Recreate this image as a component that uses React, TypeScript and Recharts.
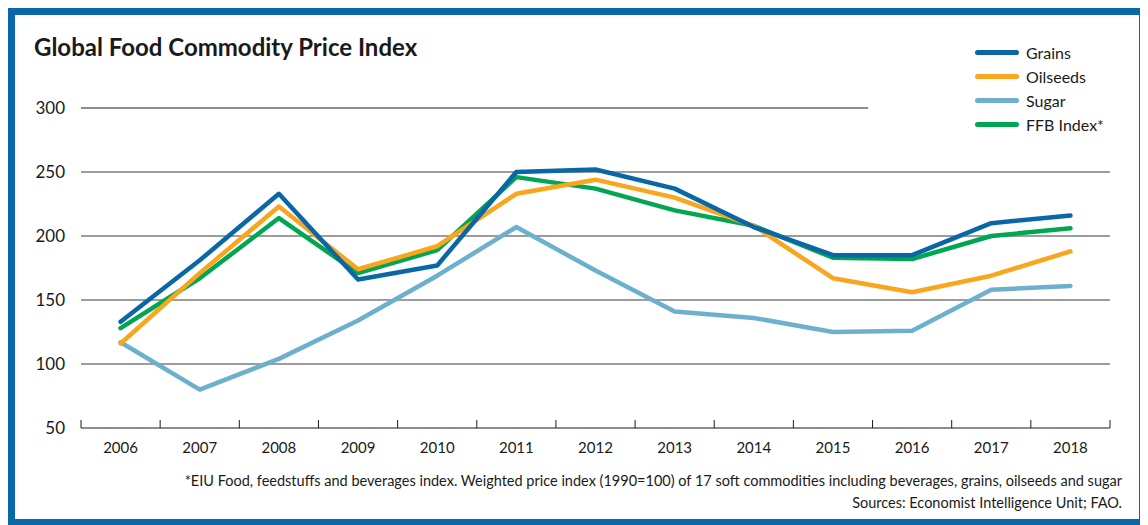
import React from "react";
import { LineChart, Line, XAxis, YAxis, CartesianGrid, ReferenceLine } from "recharts";

const years = ["2006", "2007", "2008", "2009", "2010", "2011", "2012", "2013", "2014", "2015", "2016", "2017", "2018"];
const grains = [133, 181, 233, 166, 177, 250, 252, 237, 207, 185, 185, 210, 216];
const oilseeds = [116, 171, 223, 174, 192, 233, 244, 230, 208, 167, 156, 169, 188];
const sugar = [117, 80, 104, 134, 169, 207, 173, 141, 136, 125, 126, 158, 161];
const ffb = [128, 167, 214, 171, 189, 246, 237, 220, 208, 183, 182, 200, 206];
const yTicks = [50, 100, 150, 200, 250, 300];

const series = [
  { key: "grains", name: "Grains", color: "#0a67a6" },
  { key: "oilseeds", name: "Oilseeds", color: "#f9a51e" },
  { key: "sugar", name: "Sugar", color: "#6db0cd" },
  { key: "ffb", name: "FFB Index*", color: "#00a651" },
];
// drawing order (bottom first)
const drawOrder = ["sugar", "ffb", "oilseeds", "grains"];

const data = years.map((y, i) => ({
  year: y,
  grains: grains[i],
  oilseeds: oilseeds[i],
  sugar: sugar[i],
  ffb: ffb[i],
}));

const FONT = "Lato, 'Open Sans', sans-serif";
const INK = "#1a1a1a";

function YearTick(props: any) {
  const { x, y, payload, index, visibleTicksCount } = props;
  const off = payload.offset || 39.6;
  return (
    <g>
      <line x1={x - off} x2={x - off} y1={y} y2={y - 8} stroke={INK} />
      {index === visibleTicksCount - 1 && <line x1={x + off} x2={x + off} y1={y} y2={y - 8} stroke={INK} />}
      <text x={x} y={y + 25} textAnchor="middle" fontSize={15} fill={INK} fontFamily={FONT}>
        {payload.value}
      </text>
    </g>
  );
}

export default function App() {
  return (
    <div
      style={{
        position: "relative",
        width: 1138,
        height: 518,
        border: "7px solid #0868a8",
        boxSizing: "border-box",
        background: "#fff",
        fontFamily: FONT,
      }}
    >
      <div
        style={{
          position: "absolute",
          left: 19,
          top: 20,
          fontSize: 24,
          fontWeight: 700,
          color: INK,
          lineHeight: 1,
        }}
      >
        Global Food Commodity Price Index
      </div>
      <div style={{ position: "absolute", left: 960, top: 25, fontSize: 16, color: INK }}>
        {series.map((s) => (
          <div key={s.key} style={{ display: "flex", alignItems: "center", height: 24 }}>
            <div style={{ width: 44, height: 5, borderRadius: 3, background: s.color, marginRight: 7 }} />
            <span>{s.name}</span>
          </div>
        ))}
      </div>
      <LineChart width={1124} height={460} data={data} margin={{ top: 93, right: 29, bottom: 17, left: 0 }}>
        <CartesianGrid vertical={false} horizontalValues={[100, 150, 200, 250]} stroke="#3a3a3a" />
        <ReferenceLine
          y={300}
          stroke="#1a1a1a"
          shape={(p: any) => (
            <line x1={p.x1} y1={p.y1} x2={p.x1 + (p.x2 - p.x1) * 0.765} y2={p.y2} stroke="#1a1a1a" strokeWidth={1} />
          )}
        />
        <XAxis
          dataKey="year"
          scale="band"
          height={30}
          tickLine={false}
          tickSize={0}
          tickMargin={0}
          axisLine={{ stroke: INK }}
          tick={<YearTick />}
          interval={0}
        />
        <YAxis
          width={66}
          domain={[50, 300]}
          ticks={yTicks}
          axisLine={false}
          tickLine={false}
          tickSize={0}
          tickMargin={16}
          tick={{ fontSize: 17, fill: INK, fontFamily: FONT }}
        />
        {drawOrder.map((k) => {
          const s = series.find((d) => d.key === k)!;
          return (
            <Line
              key={k}
              type="linear"
              dataKey={k}
              name={s.name}
              stroke={s.color}
              strokeWidth={4.5}
              strokeLinejoin="round"
              strokeLinecap="round"
              dot={false}
              activeDot={false}
              isAnimationActive={false}
            />
          );
        })}
      </LineChart>
      <div
        style={{
          position: "absolute",
          right: 17,
          top: 455,
          textAlign: "right",
          fontSize: 14.5,
          color: INK,
          lineHeight: "22px",
        }}
      >
        <div>*EIU Food, feedstuffs and beverages index. Weighted price index (1990=100) of 17 soft commodities including beverages, grains, oilseeds and sugar</div>
        <div>Sources: Economist Intelligence Unit; FAO.</div>
      </div>
    </div>
  );
}
